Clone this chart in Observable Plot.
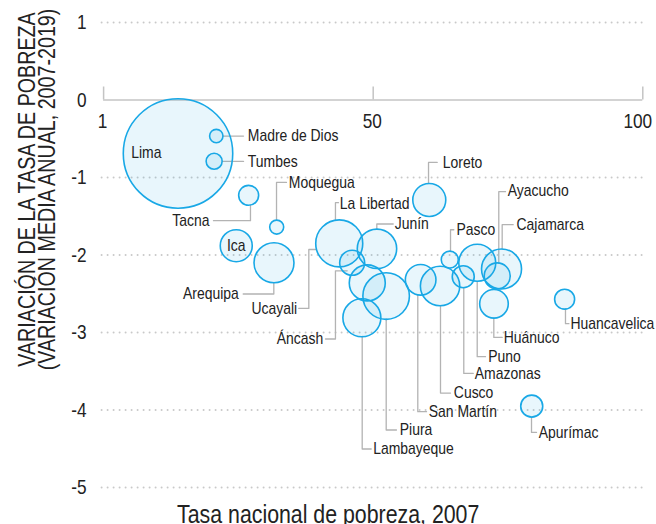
<!DOCTYPE html>
<html>
<head>
<meta charset="utf-8">
<script src="https://cdn.jsdelivr.net/npm/d3@7"></script>
<script src="https://cdn.jsdelivr.net/npm/@observablehq/plot@0.6"></script>
<style>
  html, body { margin: 0; padding: 0; background: #fff; }
  svg { display: block; }
</style>
</head>
<body>
<div id="chart"></div>
<script>
// ---- Data ----
const names = ["Lima","Madre de Dios","Tumbes","Tacna","Moquegua","Ica","Arequipa","La Libertad","Junín","Ucayali","Áncash","Lambayeque","Piura","Loreto","San Martín","Cusco","Pasco","Amazonas","Puno","Ayacucho","Cajamarca","Huánuco","Huancavelica","Apurímac"];
// Tasa nacional de pobreza, 2007 (x)
const poverty2007 = [13.8,20.9,20.5,26.9,32.1,24.6,31.6,43.7,50.7,46.1,48.9,47.9,52.4,60.4,58.8,62.4,64.2,66.7,69.3,73.0,73.8,72.4,85.5,79.4];
// Variación media anual 2007-2019 (y)
const annualChange = [-0.69,-0.465,-0.79,-1.23,-1.64,-1.88,-2.10,-1.85,-1.92,-2.10,-2.36,-2.81,-2.53,-1.29,-2.32,-2.40,-2.06,-2.28,-2.10,-2.27,-2.18,-2.63,-2.57,-3.95];
// Bubble size (population, millions)
const population = [9.9,0.148,0.212,0.33,0.162,0.846,1.32,1.826,1.283,0.517,1.071,1.193,1.79,0.9,0.774,1.28,0.239,0.4,1.131,0.559,1.322,0.676,0.33,0.4];

// Label placement (data units)
const labelX = [5.12,26.74,26.74,19.64,34.35,24.6,25.07,43.8,54.0,35.9,40.73,50.0,54.93,62.91,60.31,64.95,65.45,68.84,71.33,74.96,76.58,74.22,86.6,80.71];
const labelY = [-0.68,-0.465,-0.792,-1.557,-1.063,-1.88,-2.503,-1.33,-1.6,-2.689,-3.084,-4.503,-4.258,-0.805,-4.022,-3.781,-1.674,-3.528,-3.312,-1.17,-1.609,-3.063,-2.883,-4.289];
const labelAnchor = ["start","start","start","end","start","middle","end","start","start","end","end","start","start","start","start","start","start","start","start","start","start","start","start","start"];

// Leader lines (data units), same order as names
const leaders = [
  null,
  [[22.24,-0.465],[25.95,-0.465]],
  [[22.05,-0.792],[25.95,-0.792]],
  [[20.38,-1.557],[27.24,-1.557],[27.24,-1.36]],
  [[32.07,-1.548],[32.07,-1.063],[33.92,-1.063]],
  null,
  [[25.89,-2.503],[31.57,-2.503],[31.57,-2.361]],
  [[43.0,-1.548],[43.0,-1.325],[43.56,-1.325]],
  [[50.67,-1.665],[50.67,-1.6],[53.71,-1.6]],
  [[36.2,-2.689],[38.06,-2.689],[38.06,-1.929],[39.34,-1.929]],
  [[41.15,-3.084],[43.0,-3.084],[43.0,-2.204],[45.18,-2.204]],
  [[47.96,-3.05],[47.96,-4.503],[49.63,-4.503]],
  [[52.41,-2.826],[52.41,-4.258],[54.32,-4.258]],
  [[60.26,-1.077],[60.26,-0.805],[61.87,-0.805]],
  [[58.27,-2.516],[58.27,-4.022],[59.89,-4.022]],
  [[62.48,-2.654],[62.48,-3.781],[64.34,-3.781]],
  [[64.34,-1.947],[64.34,-1.674],[64.95,-1.674]],
  [[66.8,-2.418],[66.8,-3.528],[68.55,-3.528]],
  [[69.29,-2.342],[69.29,-3.312],[70.83,-3.312]],
  [[73.29,-2.106],[73.29,-1.183],[74.54,-1.183]],
  [[73.92,-1.923],[73.92,-1.609],[75.96,-1.609]],
  [[72.37,-2.813],[72.37,-3.063],[73.92,-3.063]],
  [[85.66,-2.697],[85.66,-2.886],[86.3,-2.886]],
  [[79.36,-4.095],[79.36,-4.289],[80.29,-4.289]]
];

// Axes
const xTicks = [0, 50, 100];
const xTickLabels = ["1", "50", "100"];
const yTicks = [1, 0, -1, -2, -3, -4, -5];
const yTickLabels = ["1", "0", "-1", "-2", "-3", "-4", "-5"];
const yGrid = [1, -1, -2, -3, -4, -5];
const yTitle = ["VARIACIÓN DE LA TASA DE POBREZA", "(VARIACIÓN MEDIA ANUAL, 2007-2019)"];
const xTitle = "Tasa nacional de pobreza, 2007";

// ---- Build ----
const idx = names.map((_, i) => i);
const leaderRows = leaders.flatMap((pts, i) => pts ? pts.map(([x, y]) => ({name: names[i], x, y})) : []);
const FONT = "'Liberation Sans', Arimo, Arial, sans-serif";
const NARROW = 0.82; // condense glyphs horizontally (narrow sans look)
const labelGroups = ["start", "end", "middle"];

const chart = Plot.plot({
  width: 656,
  height: 524,
  marginLeft: 103.1,
  marginRight: 13.7,
  marginTop: 22,
  marginBottom: 37,
  x: {domain: [0, 100], axis: null},
  y: {domain: [-5, 1], axis: null},
  r: {type: "sqrt", domain: [0, 10], range: [0, 55]},
  style: {fontFamily: FONT, color: "#222", background: "#fff"},
  marks: [
    // dotted gridlines
    Plot.ruleY(yGrid, {y: d => d, x1: 0, x2: 100, insetLeft: -1.5, insetRight: -3,
      stroke: "#c9c9c9", strokeWidth: 2, strokeDasharray: "0 6", strokeLinecap: "round"}),
    // axis line at y = 0
    Plot.ruleY([0], {x1: 0, x2: 100, stroke: "#c4c4c4", strokeWidth: 1.5}),
    // upward ticks
    Plot.ruleX(xTicks, {x: d => d, y1: 0, y2: 0, insetTop: -13, stroke: "#c4c4c4", strokeWidth: 1.5}),
    // x tick labels
    Plot.text(xTicks.slice(0, 2), {x: d => d, y: 0, text: (d, i) => xTickLabels[i], dy: 21, dx: -1,
      fontSize: 21, lineAnchor: "middle", fill: "#222"}),
    Plot.text(xTicks.slice(2), {x: d => d, y: 0, text: (d, i) => xTickLabels[i + 2], dy: 21, dx: -5,
      fontSize: 21, lineAnchor: "middle", fill: "#222"}),
    // y tick labels
    Plot.text(yTicks, {y: d => d, frameAnchor: "left", text: (d, i) => yTickLabels[i], dx: -17,
      textAnchor: "end", lineAnchor: "middle", fontSize: 21, fill: "#222"}),
    // leader lines
    Plot.line(leaderRows, {x: "x", y: "y", z: "name", stroke: "#b3b3b3", strokeWidth: 1.3}),
    // bubbles
    Plot.dot(idx, {x: i => poverty2007[i], y: i => annualChange[i], r: i => population[i],
      fill: "#1aa7e4", fillOpacity: 0.1, stroke: "#18a8e6", strokeWidth: 1.6}),
    // labels
    ...labelGroups.map(a => Plot.text(idx.filter(i => labelAnchor[i] === a), {
      x: i => labelX[i], y: i => labelY[i], text: i => names[i],
      textAnchor: a, lineAnchor: "middle", fontSize: 17, fill: "#222"})),
    // y title (two rotated lines)
    Plot.text([yTitle[0]], {text: d => d, frameAnchor: "left", rotate: -90, dx: 34 - 103.1, dy: 189 - 254.5,
      textAnchor: "middle", lineAnchor: "bottom", fontSize: 24, fill: "#222"}),
    Plot.text([yTitle[1]], {text: d => d, frameAnchor: "left", rotate: -90, dx: 54 - 103.1, dy: 189 - 254.5,
      textAnchor: "middle", lineAnchor: "bottom", fontSize: 24, fill: "#222"}),
    // x title
    Plot.text([xTitle], {text: d => d, frameAnchor: "bottom", dy: 35, dx: -45,
      textAnchor: "middle", lineAnchor: "bottom", fontSize: 26, fill: "#222"})
  ]
});
document.getElementById("chart").appendChild(chart);

// Condense all texts horizontally to mimic the narrow typeface of the original
chart.querySelectorAll("text").forEach(t => {
  const len = t.getComputedTextLength();
  if (len > 0) {
    t.setAttribute("textLength", (len * NARROW).toFixed(2));
    t.setAttribute("lengthAdjust", "spacingAndGlyphs");
  }
});
</script>
</body>
</html>
